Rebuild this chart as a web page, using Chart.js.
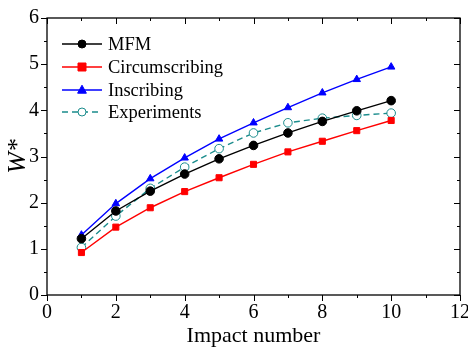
<!DOCTYPE html>
<html>
<head>
<meta charset="utf-8">
<script src="https://cdn.jsdelivr.net/npm/chart.js@4.4.1/dist/chart.umd.min.js"></script>
<style>
  html, body { margin: 0; padding: 0; background: #fff; }
  #wrap { width: 468px; height: 347px; }
</style>
</head>
<body>
<div id="wrap"><canvas id="grafico"></canvas></div>
<script>
const impactos = [1, 2, 3, 4, 5, 6, 7, 8, 9, 10];
const mfm = [1.22, 1.82, 2.25, 2.62, 2.95, 3.24, 3.51, 3.76, 3.99, 4.21];
const circunscrito = [0.92, 1.47, 1.89, 2.24, 2.54, 2.83, 3.10, 3.33, 3.56, 3.78];
const inscrito = [1.30, 1.98, 2.52, 2.97, 3.38, 3.73, 4.06, 4.38, 4.67, 4.94];
const experimentos = [1.03, 1.71, 2.31, 2.77, 3.17, 3.51, 3.73, 3.83, 3.89, 3.94];
const nomes = ['MFM', 'Circumscribing', 'Inscribing', 'Experiments'];

const fonte = '"Liberation Serif", "Times New Roman", serif';

function pares(ys) {
    return impactos.map((x, i) => ({ x: x, y: ys[i] }));
}

// desenha o marcador de uma serie (usado tambem na legenda)
function marcador(ctx, estilo, x, y, r, cor, cheio) {
    ctx.save();
    ctx.beginPath();
    if (estilo === 'rect') {
        ctx.rect(x - r, y - r, 2 * r, 2 * r);
    } else if (estilo === 'triangle') {
        ctx.moveTo(x, y - r * 1.2);
        ctx.lineTo(x + r * 1.1, y + r * 0.8);
        ctx.lineTo(x - r * 1.1, y + r * 0.8);
        ctx.closePath();
    } else {
        ctx.arc(x, y, r, 0, Math.PI * 2);
    }
    ctx.fillStyle = cheio ? cor : '#fff';
    ctx.fill();
    ctx.strokeStyle = cor;
    ctx.lineWidth = 1;
    ctx.stroke();
    ctx.restore();
}

const molduraPlugin = {
    id: 'moldura',
    afterDraw(chart) {
        const ctx = chart.ctx;
        const a = chart.chartArea;
        const sx = chart.scales.x;
        const sy = chart.scales.y;
        ctx.save();
        ctx.strokeStyle = '#000';
        ctx.lineWidth = 1.3;
        ctx.strokeRect(a.left, a.top, a.right - a.left, a.bottom - a.top);
        ctx.lineWidth = 1;
        ctx.beginPath();
        for (let v = 0; v <= 12; v += 1) {
            const px = Math.round(sx.getPixelForValue(v)) + 0.5;
            const len = v % 2 === 0 ? 6 : 3;
            ctx.moveTo(px, a.bottom);
            ctx.lineTo(px, a.bottom + len);
            ctx.moveTo(px, a.top);
            ctx.lineTo(px, a.top + len);
        }
        for (let v = 0; v <= 6; v += 0.5) {
            const py = Math.round(sy.getPixelForValue(v)) + 0.5;
            const len = Number.isInteger(v) ? 6 : 3;
            ctx.moveTo(a.left, py);
            ctx.lineTo(a.left - len, py);
            ctx.moveTo(a.right, py);
            ctx.lineTo(a.right - len, py);
        }
        ctx.stroke();
        ctx.restore();
    }
};

const legendaPlugin = {
    id: 'legenda',
    afterDatasetsDraw(chart) {
        const ctx = chart.ctx;
        const x0 = 62, x1 = 102, xt = 108;
        const linhas = [44, 67, 90, 112];
        ctx.save();
        chart.data.datasets.forEach((ds, i) => {
            const y = linhas[i];
            ctx.beginPath();
            ctx.strokeStyle = ds.borderColor;
            ctx.lineWidth = ds.borderWidth;
            ctx.setLineDash(ds.borderDash || []);
            ctx.moveTo(x0, y);
            ctx.lineTo(x1, y);
            ctx.stroke();
            ctx.setLineDash([]);
            marcador(ctx, ds.pointStyle, (x0 + x1) / 2, y, 4, ds.borderColor, ds.pointBackgroundColor !== '#fff');
            ctx.fillStyle = '#000';
            ctx.font = '18.5px ' + fonte;
            ctx.textBaseline = 'middle';
            ctx.fillText(ds.label, xt, y + 1);
        });
        ctx.restore();
    }
};

function serie(nome, ys, cor, estilo, cheio, tracejado) {
    return {
        label: nome,
        data: pares(ys),
        borderColor: cor,
        backgroundColor: cor,
        borderWidth: 1.4,
        borderDash: tracejado ? [6, 4] : [],
        pointStyle: estilo,
        pointRadius: 4.3,
        pointBorderWidth: 1,
        pointBackgroundColor: cheio ? cor : '#fff',
        pointBorderColor: cor,
        tension: 0
    };
}

document.addEventListener('DOMContentLoaded', function() {
    const ctx = document.getElementById('grafico').getContext('2d');
    new Chart(ctx, {
        type: 'line',
        data: {
            datasets: [
                serie(nomes[0], mfm, '#000000', 'circle', true, false),
                serie(nomes[1], circunscrito, '#ff0000', 'rect', true, false),
                serie(nomes[2], inscrito, '#0000ff', 'triangle', true, false),
                serie(nomes[3], experimentos, '#1a8c8c', 'circle', false, true)
            ]
        },
        options: {
            responsive: true,
            maintainAspectRatio: false,
            animation: false,
            layout: { padding: { left: 0, right: 0, top: 6, bottom: 0 } },
            plugins: {
                legend: { display: false },
                tooltip: { enabled: false }
            },
            scales: {
                x: {
                    type: 'linear',
                    min: 0,
                    max: 12,
                    afterFit(scale) {
                        scale.height = 52;
                        scale.paddingRight = 8;
                    },
                    grid: { display: false, drawTicks: false },
                    border: { display: false },
                    ticks: {
                        stepSize: 2,
                        padding: 8,
                        color: '#000',
                        font: { family: fonte, size: 20, lineHeight: 1 }
                    },
                    title: {
                        display: true,
                        text: 'Impact number',
                        color: '#000',
                        padding: { top: 0, bottom: 0 },
                        font: { family: fonte, size: 22, lineHeight: 1 }
                    }
                },
                y: {
                    min: 0,
                    max: 6,
                    afterFit(scale) {
                        scale.width = 47;
                    },
                    grid: { display: false, drawTicks: false },
                    border: { display: false },
                    ticks: {
                        stepSize: 1,
                        padding: 8,
                        color: '#000',
                        font: { family: fonte, size: 20, lineHeight: 1 }
                    },
                    title: {
                        display: true,
                        text: 'W*',
                        color: '#000',
                        padding: { top: 5, bottom: 0 },
                        font: { family: fonte, size: 26, style: 'italic', lineHeight: 1 }
                    }
                }
            }
        },
        plugins: [molduraPlugin, legendaPlugin]
    });
});
</script>
</body>
</html>
